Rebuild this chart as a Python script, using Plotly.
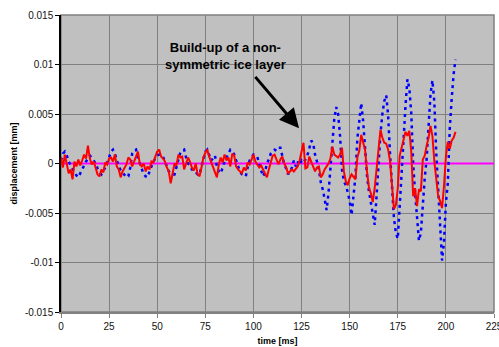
import plotly.graph_objects as go

# time axis in ms (1 ms sampling)
time_ms = list(range(0, 206))

# sensor displacement, red channel, in micrometres
disp_red_um = [
    0.6, -0.4, 0.9, 0.1, -1.0, -0.6, -1.6, 0.2, -0.3, 0.4,
    -0.2, 0.3, 0.9, 0.5, 1.8, 0.5, -0.1, 0.2, -0.4, -1.1,
    -1.3, -0.6, -0.9, 0.1, -0.1, 0.5, 0.6, 0.2, 0.9, -0.3,
    -0.6, -1.4, -0.8, -0.4, -0.1, 0.6, 0.4, -0.3, 0.2, 0.7,
    1.2, -0.1, -0.3, 0.0, -0.8, -0.3, -0.6, 0.2, 0.1, 0.7,
    1.2, 1.4, 0.7, 0.5, 0.2, -0.4, -0.8, -2.0, -1.1, 0.0,
    -0.2, 0.9, 0.6, 0.7, -0.6, -0.1, 0.6, 0.2, -0.4, -0.7,
    0.0, -1.1, -1.3, -0.4, 0.6, 1.1, 1.4, 0.7, 0.2, -0.4,
    -0.8, -1.4, -0.1, 0.6, 0.1, 0.9, 0.3, 0.6, -0.3, 1.0,
    0.8, -0.3, -0.6, -0.8, -1.0, -0.4, -0.7, 0.1, -0.1, 0.4,
    0.9, 0.2, -0.1, -0.4, -0.2, -0.6, -1.1, -1.4, -0.6, 0.2,
    0.8, 0.9, 0.3, -0.1, 0.4, 0.7, 0.0, -0.4, -1.0, -0.8,
    -0.6, -0.8, -0.5, -0.3, 0.3, 1.2, 2.1, -0.5, -0.4, 0.7,
    0.2, -0.3, -0.8, -0.4, -0.3, -1.4, -1.1, -0.6, -0.3, 0.0,
    0.5, 1.7, 0.9, 0.7, 0.6, 0.9, 1.6, -0.8, -1.8, -2.2,
    -1.5, -1.1, -1.4, -1.6, 0.6, 1.3, 2.9, 2.2, 1.4, -0.8,
    -2.4, -3.0, -3.9, -2.5, -0.6, 1.5, 3.4, 2.6, 2.1, 2.0,
    1.4, 0.2, -2.5, -4.6, -4.2, -2.5, 0.8, 1.6, 2.4, 3.2,
    2.8, 3.3, 1.2, -3.3, -2.5, -4.3, -2.6, -2.8, 0.4, 0.8,
    1.8, 2.6, 3.8, 2.8, 0.2, -1.5, -3.3, -3.8, -4.5, -2.3,
    0.7, 2.2, 1.5, 2.3, 2.6, 3.2,
]

# sensor displacement, blue channel, in micrometres
disp_blue_um = [
    0.3, 1.0, 1.2, 0.8, 0.2, -0.2, -0.6, -0.9, -1.2, -1.4,
    -1.0, -0.5, -0.2, 0.2, 0.5, 0.8, 0.6, 0.3, 0.0, -0.5,
    -0.9, -1.1, -0.8, -0.4, 0.1, 0.6, 1.2, 1.4, 1.0, 0.3,
    -0.3, -0.7, -0.9, -1.2, -1.4, -1.3, -0.4, 1.0, 1.3, 1.4,
    0.5, 0.0, -0.5, -1.1, -1.3, -1.4, -0.8, -0.2, 0.2, 0.5,
    0.8, 0.9, 0.9, 0.7, 0.2, -0.4, -0.8, -1.0, -1.1, -1.1,
    -0.4, 0.5, 1.1, 1.3, 1.4, 0.6, 0.0, -0.2, -0.6, -0.6,
    -0.9, -1.1, -1.1, -0.4, 0.3, 1.2, 1.4, 0.9, 0.3, 0.5,
    0.8, -0.3, -0.8, -1.0, -0.3, 0.2, 0.6, 1.1, 1.4, 1.3,
    0.9, 0.3, -0.3, -0.8, -1.1, -1.2, -1.3, -0.4, 0.3, 0.6,
    0.9, 0.8, 0.7, -0.1, -0.8, -1.3, -0.9, 0.0, 0.4, 1.0,
    1.3, 1.4, 1.3, 1.6, 1.6, 0.6, -0.1, -0.5, -1.1, -0.8,
    -0.4, 0.3, -0.3, 0.2, -0.2, 0.3, 0.1, 0.4, 0.8, 1.5,
    2.3, 2.1, 0.9, 0.2, -0.6, -1.9, -2.6, -3.6, -4.7, -3.0,
    -0.4, 2.5, 4.5, 5.7, 5.0, 2.8, -0.6, -1.8, -2.2, -2.9,
    -3.8, -5.2, -3.5, -1.3, 2.5, 4.3, 6.1, 4.3, 1.1, -1.2,
    -2.8, -4.0, -5.2, -6.2, -3.2, 0.2, 3.0, 5.0, 6.3, 6.9,
    4.8, 0.9, -2.8, -5.5, -7.0, -7.6, -4.3, -0.6, 3.0, 5.8,
    8.5, 7.6, 5.1, 0.0, -3.0, -5.8, -7.8, -7.0, -3.9, -1.5,
    0.5, 4.5, 7.0, 8.4, 6.2, 1.0, -3.0, -5.5, -9.8, -8.0,
    -4.0, -2.0, 3.5, 6.5, 9.0, 10.5,
]

# zero reference line
zero_t = [0, 225]
zero_disp = [0, 0]

x_ticks = [0, 25, 50, 75, 100, 125, 150, 175, 200, 225]
y_ticks = [-0.015, -0.01, -0.005, 0, 0.005, 0.01, 0.015]
y_tick_labels = ["-0.015", "-0.01", "-0.005", "0", "0.005", "0.01", "0.015"]

disp_red_mm = [v / 1000 for v in disp_red_um]
disp_blue_mm = [v / 1000 for v in disp_blue_um]

FONT = "Liberation Sans, Arial, sans-serif"

fig = go.Figure()
fig.add_trace(go.Scatter(x=zero_t, y=zero_disp, mode="lines",
                         line=dict(color="#FF00FF", width=2), showlegend=False))
fig.add_trace(go.Scatter(x=time_ms, y=disp_blue_mm, mode="lines",
                         line=dict(color="#0000FF", width=2.5, dash="3px,4px"),
                         showlegend=False))
fig.add_trace(go.Scatter(x=time_ms, y=disp_red_mm, mode="lines",
                         line=dict(color="#FF0000", width=2), showlegend=False))

# grey frame around the plotting area
fig.add_shape(type="rect", xref="paper", yref="paper", x0=0, x1=1, y0=0, y1=1,
              line=dict(color="#808080", width=1.5), layer="below")

fig.add_annotation(x=85.5, y=0.0109, xref="x", yref="y",
                   text="Build-up of a non-<br>symmetric ice layer",
                   showarrow=False, font=dict(family=FONT, size=13, color="black", weight="bold"),
                   align="center")
fig.add_annotation(x=123.7, y=0.00355, ax=100.3, ay=0.0089,
                   xref="x", yref="y", axref="x", ayref="y",
                   text="", showarrow=True, arrowhead=2, arrowsize=1.3,
                   arrowwidth=3, arrowcolor="black")

fig.update_layout(
    width=499, height=347,
    margin=dict(l=61, r=5, t=15, b=35, autoexpand=False),
    paper_bgcolor="white", plot_bgcolor="#C0C0C0",
    font=dict(family=FONT, size=10, color="black"),
    showlegend=False,
)
fig.update_xaxes(range=[0, 225], tickvals=x_ticks, showgrid=True,
                 gridcolor="#808080", gridwidth=1, zeroline=False,
                 showline=True, linecolor="#808080", linewidth=1.5,
                 ticks="outside", ticklen=4, tickcolor="#808080",
                 ticklabeloverflow="allow", automargin=False,
                 tickfont=dict(size=10, color="#111111"),
                 title=dict(text="time [ms]", standoff=7,
                            font=dict(size=9, weight="bold", color="black")))
fig.update_yaxes(range=[-0.015, 0.015], tickvals=y_ticks, ticktext=y_tick_labels,
                 showgrid=True, gridcolor="#808080", gridwidth=1, zeroline=False,
                 showline=True, linecolor="black", linewidth=1.5,
                 ticks="outside", ticklen=4, tickcolor="black", automargin=False,
                 tickfont=dict(size=10, color="#111111"),
                 title=dict(text="displacement [mm]", standoff=6,
                            font=dict(size=9, weight="bold", color="black")))

fig.write_html("out.html")
